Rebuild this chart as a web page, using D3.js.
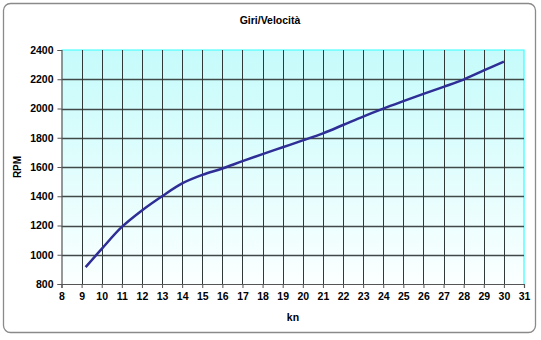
<!DOCTYPE html>
<html>
<head>
<meta charset="utf-8">
<script src="https://cdn.jsdelivr.net/npm/d3@7/dist/d3.min.js"></script>
<style>
  html, body { margin: 0; padding: 0; background: #ffffff; }
  svg { display: block; }
  text { font-family: "Liberation Sans", Arial, sans-serif; fill: #000; }
</style>
</head>
<body>
<svg id="chart" width="541" height="340"></svg>
<script>
// Engine speed (RPM) against boat speed (knots)
const speeds = [9.2, 10, 11, 12, 13, 14, 15, 16, 17, 18, 19, 20, 21, 22, 23, 24, 25, 26, 27, 28, 29, 30];
const rpm    = [915, 1040, 1190, 1303, 1400, 1488, 1546, 1590, 1640, 1688, 1735, 1782, 1830, 1887, 1945, 1999, 2050, 2100, 2148, 2198, 2260, 2320];
const xTicks = d3.range(8, 32, 1);
const yTicks = [800, 1000, 1200, 1400, 1600, 1800, 2000, 2200, 2400];

const title = "Giri/Velocità";
const xTitle = "kn";
const yTitle = "RPM";

const svg = d3.select("#chart");
const m = { left: 61.5, right: 524, top: 50, bottom: 284 };

const x = d3.scaleLinear().domain([8, 31]).range([m.left, m.right]);
const y = d3.scaleLinear().domain([800, 2400]).range([m.bottom, m.top]);

// outer frame
svg.append("rect")
  .attr("x", 3.5).attr("y", 3.5)
  .attr("width", 532).attr("height", 329)
  .attr("rx", 7).attr("ry", 7)
  .attr("fill", "#ffffff")
  .attr("stroke", "#8a8a8a")
  .attr("stroke-width", 1.3);

// plot background gradient
const defs = svg.append("defs");
const grad = defs.append("linearGradient")
  .attr("id", "plotBg").attr("x1", 0).attr("y1", 0).attr("x2", 0).attr("y2", 1);
grad.append("stop").attr("offset", "0%").attr("stop-color", "#c6fbfb");
grad.append("stop").attr("offset", "100%").attr("stop-color", "#fbffff");

svg.append("rect")
  .attr("x", m.left).attr("y", m.top)
  .attr("width", m.right - m.left).attr("height", m.bottom - m.top)
  .attr("fill", "url(#plotBg)");

// plot border on top and right
svg.append("path")
  .attr("d", `M${m.left},${m.top}H${m.right}V${m.bottom}`)
  .attr("fill", "none")
  .attr("stroke", "#33ffff")
  .attr("stroke-width", 1.2);

// grid lines
const grid = svg.append("g");
grid.selectAll("line.h")
  .data(yTicks.filter(v => v > 800 && v < 2400))
  .join("line")
  .attr("x1", m.left).attr("x2", m.right)
  .attr("y1", d => Math.round(y(d)) + 0.5).attr("y2", d => Math.round(y(d)) + 0.5)
  .attr("stroke", "#404848").attr("stroke-width", 1.3);
grid.selectAll("line.v")
  .data(xTicks.filter(v => v > 8 && v < 31))
  .join("line")
  .attr("y1", m.top).attr("y2", m.bottom)
  .attr("x1", d => Math.round(x(d)) + 0.5).attr("x2", d => Math.round(x(d)) + 0.5)
  .attr("stroke", "#303838").attr("stroke-width", 1);

// axes
const xAxis = d3.axisBottom(x).tickValues(xTicks).tickSize(4).tickPadding(5).tickFormat(d3.format("d"));
const yAxis = d3.axisLeft(y).tickValues(yTicks).tickSize(4).tickPadding(4).tickFormat(d3.format("d"));

const gx = svg.append("g").attr("transform", `translate(0,${m.bottom})`).call(xAxis);
const gy = svg.append("g").attr("transform", `translate(${m.left},0)`).call(yAxis);
[gx, gy].forEach(g => {
  g.select(".domain").attr("stroke", "#555").attr("stroke-width", 1.2);
  g.selectAll(".tick line").attr("stroke", "#555");
  g.selectAll(".tick text")
    .attr("font-size", 10.5)
    .attr("font-weight", "bold")
    .attr("font-family", "'Liberation Sans', Arial, sans-serif")
    .attr("fill", "#000");
});

// data line
const line = d3.line()
  .x((d, i) => x(speeds[i]))
  .y(d => y(d))
  .curve(d3.curveCatmullRom.alpha(0.5));

svg.append("path")
  .datum(rpm)
  .attr("d", line)
  .attr("fill", "none")
  .attr("stroke", "#2e2e96")
  .attr("stroke-width", 2.5)
  .attr("stroke-linecap", "butt");

// titles
svg.append("text")
  .attr("x", 270).attr("y", 23.5)
  .attr("text-anchor", "middle")
  .attr("font-size", 10.5).attr("font-weight", "bold")
  .text(title);

svg.append("text")
  .attr("x", 293).attr("y", 321)
  .attr("text-anchor", "middle")
  .attr("font-size", 10.5).attr("font-weight", "bold")
  .text(xTitle);

svg.append("text")
  .attr("transform", "translate(21,167) rotate(-90)")
  .attr("text-anchor", "middle")
  .attr("font-size", 10).attr("font-weight", "bold")
  .text(yTitle);
</script>
</body>
</html>
